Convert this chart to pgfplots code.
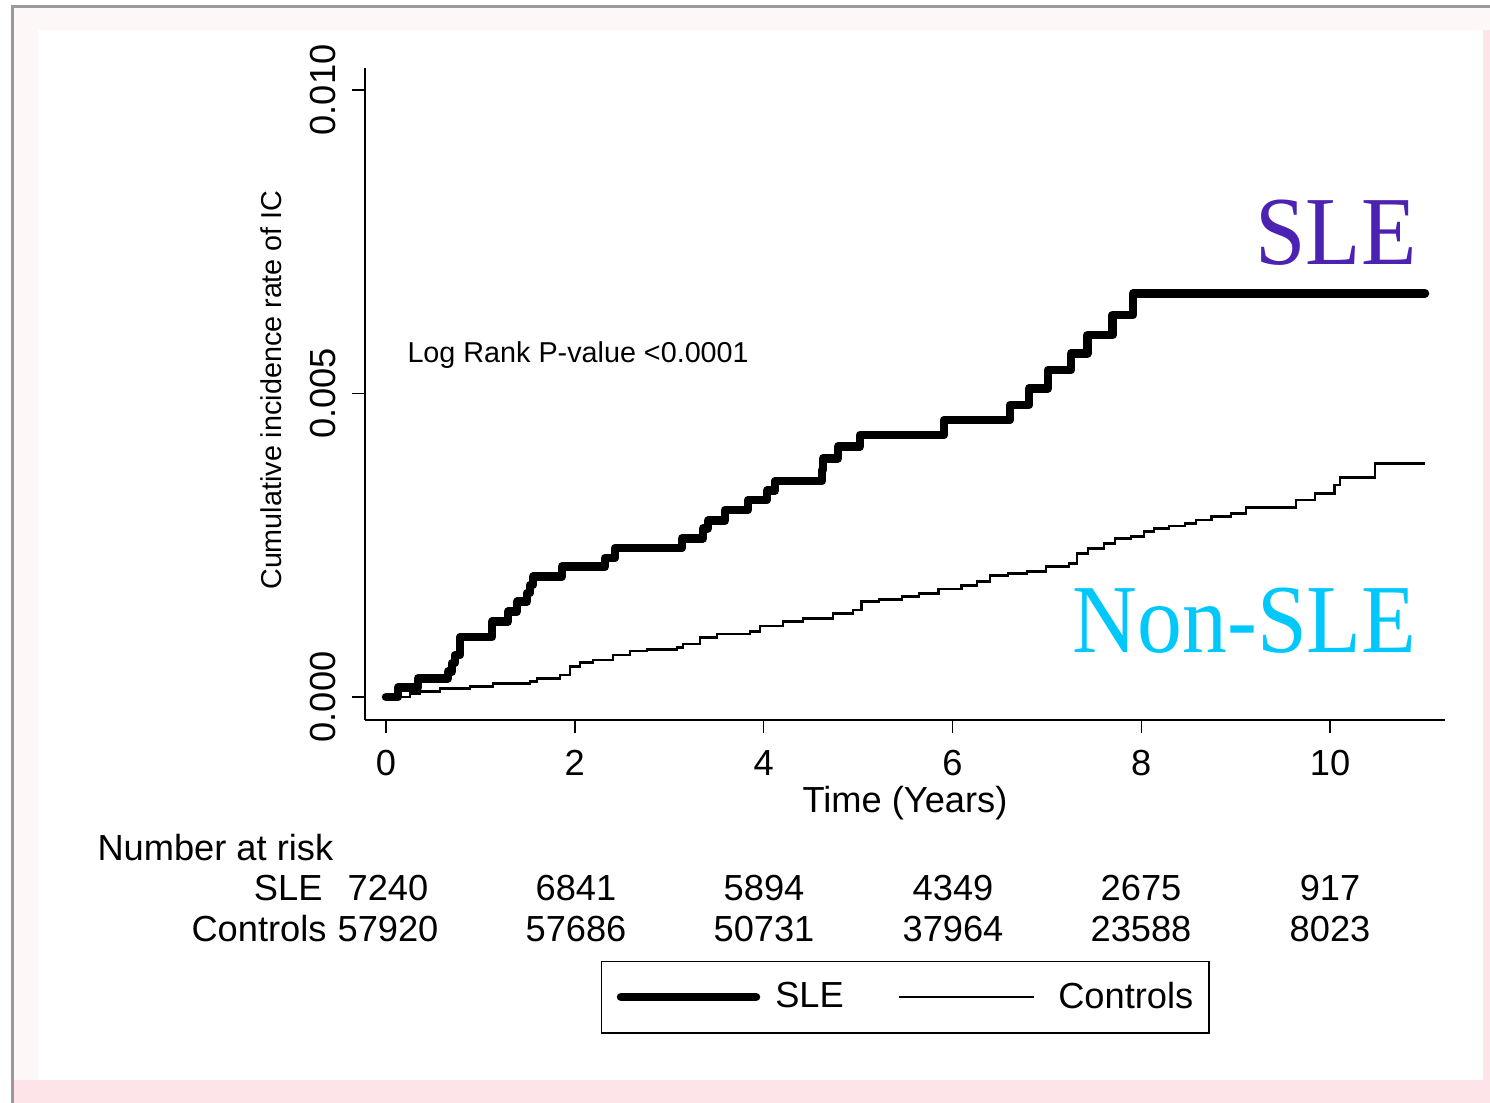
\documentclass[border=0pt]{standalone}
\usepackage{pgfplots}
\usepackage{pgfplotstable}
\pgfplotsset{compat=1.18}
\usepackage{fontspec}
\setmainfont{Liberation Sans}
\newfontfamily\timesfont{Liberation Serif}
\definecolor{slepurple}{HTML}{4B22B2}
\definecolor{noncyan}{HTML}{00C8FA}
\definecolor{bgpink}{HTML}{FCE4E8}
\definecolor{bglight}{HTML}{FDF7F8}
\definecolor{framegray}{HTML}{9A9A9A}

\pgfplotstableread{
x y
0 0
0.127 0.000160
0.339 0.000308
0.657 0.000417
0.699 0.000560
0.731 0.000692
0.784 0.000988
1.123 0.001241
1.292 0.001405
1.388 0.001570
1.494 0.001713
1.525 0.001845
1.557 0.001982
1.864 0.002147
2.320 0.002290
2.426 0.002455
3.136 0.002614
3.358 0.002779
3.411 0.002904
3.591 0.003081
3.835 0.003245
4.036 0.003399
4.121 0.003558
4.619 0.003740
4.629 0.003932
4.788 0.004124
5.021 0.004316
5.911 0.004563
6.610 0.004811
6.811 0.005086
7.013 0.005387
7.256 0.005662
7.431 0.005964
7.696 0.006293
7.913 0.006651
11.006 0.006651
}\sletable

\pgfplotstableread{
x y
0 0
0.254 0.000061
0.360 0.000087
0.572 0.000143
0.890 0.000170
1.133 0.000226
1.525 0.000252
1.600 0.000308
1.843 0.000362
1.949 0.000499
2.055 0.000565
2.193 0.000610
2.405 0.000692
2.585 0.000758
2.765 0.000786
3.083 0.000819
3.146 0.000873
3.326 0.000984
3.506 0.001038
3.856 0.001076
3.962 0.001170
4.206 0.001241
4.417 0.001297
4.735 0.001379
4.947 0.001433
5.037 0.001570
5.222 0.001610
5.466 0.001652
5.646 0.001708
5.853 0.001779
6.096 0.001834
6.261 0.001900
6.398 0.001998
6.589 0.002038
6.790 0.002064
6.992 0.002147
7.235 0.002203
7.320 0.002367
7.436 0.002450
7.606 0.002532
7.722 0.002614
7.892 0.002641
8.030 0.002723
8.136 0.002779
8.294 0.002817
8.464 0.002862
8.581 0.002916
8.745 0.002970
8.951 0.003026
9.110 0.003125
9.640 0.003245
9.841 0.003356
10.049 0.003493
10.106 0.003619
10.477 0.003850
11.006 0.003850
}\controltable

\newcommand{\mainsize}{\fontsize{14.5}{17}\selectfont}
\newcommand{\smallsize}{\fontsize{11.5}{13.5}\selectfont}

\begin{document}
\begin{tikzpicture}
\begin{scope}[x=0.4pt,y=-0.4pt]
\useasboundingbox (0,0) rectangle (1490,1103);
\fill[white] (0,0) rectangle (1490,1103);
\fill[bglight] (12,7) rectangle (1490,1103);
\fill[bgpink] (12,1080) rectangle (1490,1103);
\fill[bgpink] (1483,30) rectangle (1490,1080);
\fill[white] (38,30) rectangle (1483,1080);
\draw[framegray, line width=1.2pt] (12,1103) -- (12,7) -- (1490,7);
\end{scope}

\begin{axis}[
  at={(146pt,-288pt)}, anchor=south west,
  width=432pt, height=260.8pt, scale only axis,
  xmin=-0.2225, xmax=11.218, ymin=-0.000379, ymax=0.010362,
  axis x line=bottom, axis y line=left,
  axis line style={-, line width=0.6pt},
  tick align=outside, major tick length=5.2pt,
  tick style={line width=0.6pt, black},
  xtick={0,2,4,6,8,10},
  ytick={0,0.005,0.01}, yticklabels={0.000,0.005,0.010},
  scaled y ticks=false,
  /pgf/number format/assume math mode=true,
  ticklabel style={font=\mainsize},
  xticklabel style={anchor=base, inner sep=0pt},
  xticklabel shift=16.8pt,
  yticklabel style={rotate=90, anchor=base, inner sep=0pt},
  yticklabel shift=6.8pt,
  legend columns=2,
  legend style={at={(0.5,-0.42485)}, anchor=center, draw=black, line width=0.6pt,
    font=\mainsize, nodes={inner sep=0pt},
    inner xsep=6.2pt, inner ysep=8.3pt,
    /tikz/column 1/.append style={column sep=6pt},
    /tikz/column 2/.append style={column sep=21.6pt},
    /tikz/column 3/.append style={column sep=9.2pt}},
  legend image code/.code={\draw[#1] (0pt,0pt) -- (54pt,0pt);},
]
\addplot[const plot, black, line width=3.4pt, line cap=round, line join=round] table[x=x,y=y] {\sletable};
\addlegendentry{SLE}
\addplot[const plot, black, line width=1pt] table[x=x,y=y] {\controltable};
\addlegendentry{Controls}
\end{axis}

\begin{scope}[x=0.4pt,y=-0.4pt]
\node[rotate=90, font=\smallsize, inner sep=0pt] at (271,390) {Cumulative incidence rate of IC};
\node[anchor=base, font=\mainsize, inner sep=0pt] at (905,812) {Time (Years)};
\node[anchor=base west, inner sep=0pt, font=\smallsize] at (407,363) {Log Rank P-value <0.0001};
\node[anchor=base east, inner sep=0pt, text=slepurple, font=\timesfont\fontsize{39}{40}\selectfont, xscale=0.93] at (1417,265) {SLE};
\node[anchor=base east, inner sep=0pt, text=noncyan, font=\timesfont\fontsize{39}{40}\selectfont, xscale=0.92] at (1417,652) {Non-SLE};
\node[anchor=base west, inner sep=0pt, font=\mainsize] at (97,860) {Number at risk};
\node[anchor=base east, inner sep=0pt, font=\mainsize] at (323,900) {SLE};
\node[anchor=base east, inner sep=0pt, font=\mainsize] at (327,941) {Controls};
\foreach \xx/\a/\b in {388/7240/57920, 576/6841/57686, 764/5894/50731, 953/4349/37964, 1141/2675/23588, 1330/917/8023} {
  \node[anchor=base, inner sep=0pt, font=\mainsize] at (\xx,900) {\a};
  \node[anchor=base, inner sep=0pt, font=\mainsize] at (\xx,941) {\b};
}
\end{scope}
\end{tikzpicture}
\end{document}
